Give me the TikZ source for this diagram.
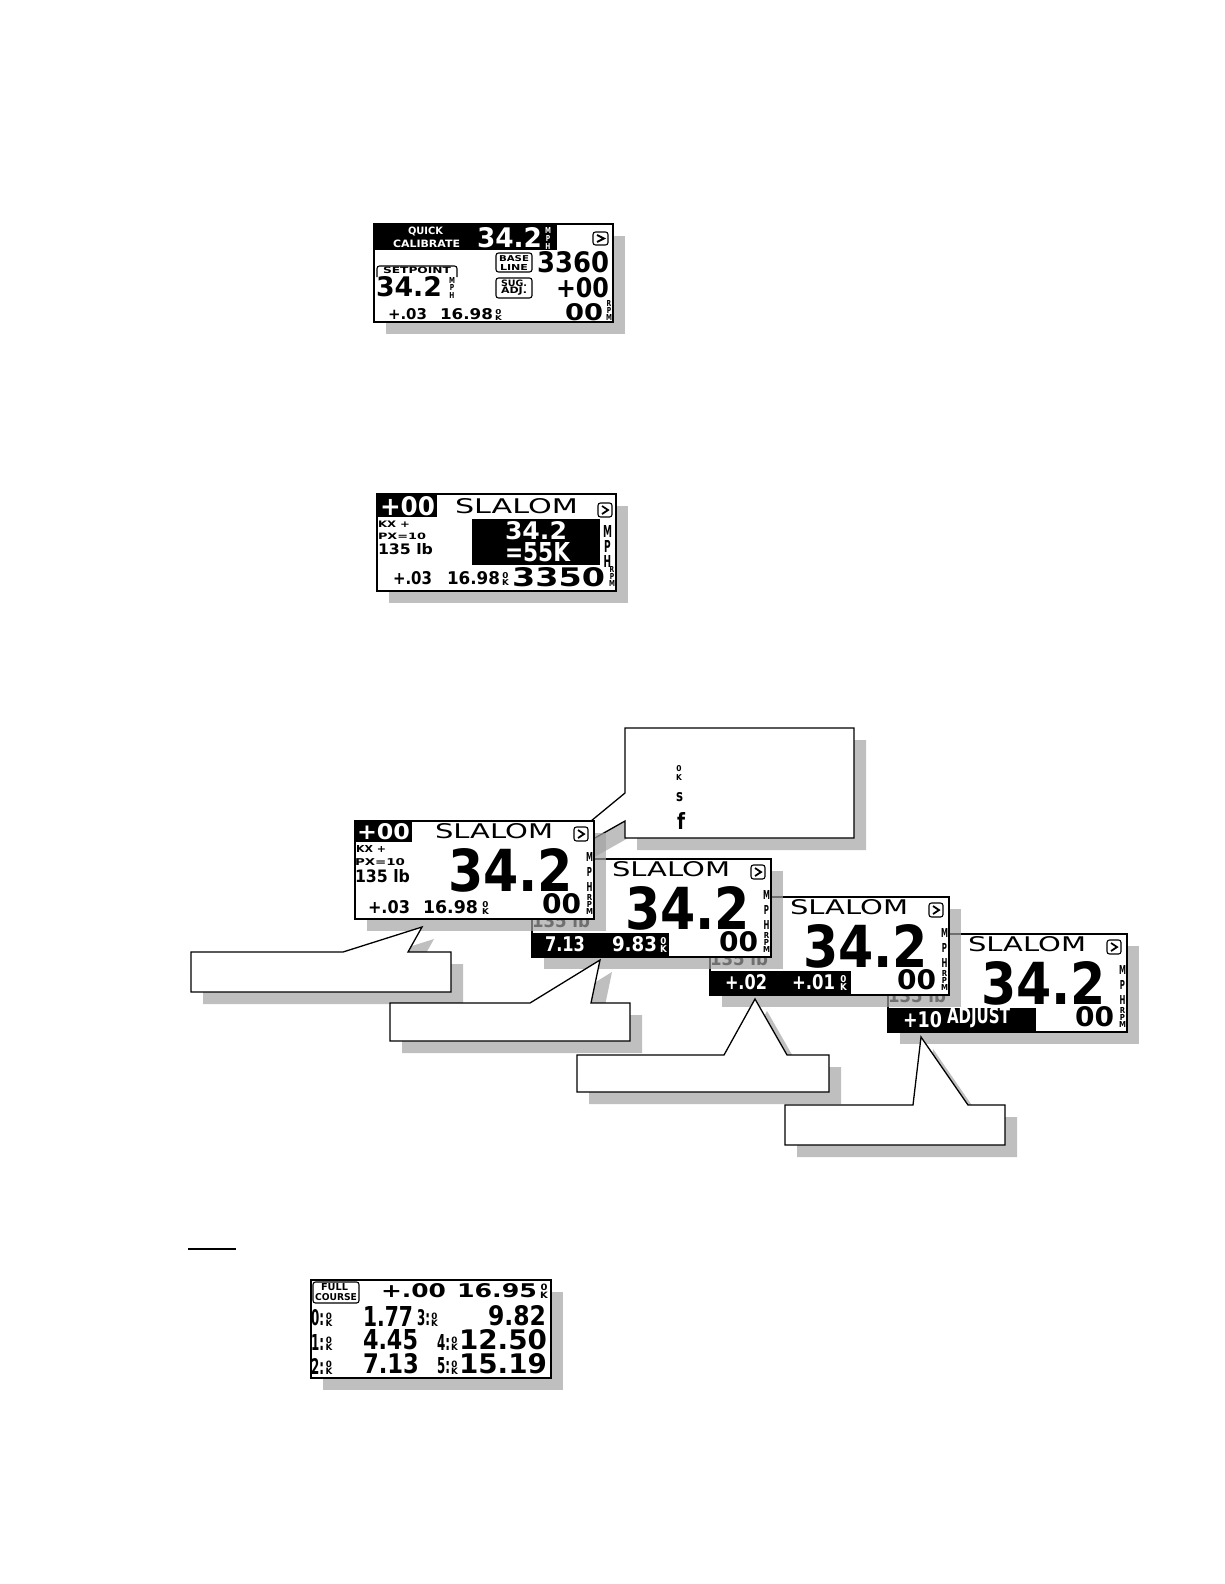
\documentclass[tikz,border=0pt]{standalone}
\usepackage{fontspec}
\setmainfont{DejaVu Sans}
\usepackage{graphicx}
\definecolor{shc}{RGB}{163,163,163}
\newcounter{tn}
\tikzset{
 txt/.style={anchor=south west, inner sep=0pt, outer sep=0pt},
 lcd/.style={draw=black, line width=1.5pt, fill=white},
 shd/.style={fill=shc, fill opacity=0.686, draw=none},
 blk/.style={fill=black, draw=none},
 call/.style={draw=black, line width=1.3pt, fill=white, line join=miter},
 btn/.style={draw=black, line width=1.1pt, rounded corners=2.5pt, fill=white},
}
\newcommand\tx[6][]{\stepcounter{tn}\node[txt,#1] (t\arabic{tn}) at ({#2},{#3}) {\resizebox{#4pt}{#5pt}{#6}};}
\newcommand\vstk[4]{\vbox{\offinterlineskip\hbox to 1em{\hfil#1\hfil}\kern#4\hbox to 1em{\hfil#2\hfil}\kern#4\hbox to 1em{\hfil#3\hfil}}}
\newcommand\vtwo[3]{\vbox{\offinterlineskip\hbox to 0.8em{\hfil#1\hfil}\kern#3\hbox to 0.8em{\hfil#2\hfil}}}
% [colour]{x}{y top}{w}{letter h}{step}{L1}{L2}{L3}
\newcommand\three[9][black]{\pgfmathsetmacro\stkh{2*#6+#5}\pgfmathsetmacro\stkg{7.29*(#6-#5)/#5}\tx[text=#1]{#2}{#3+\stkh}{#4}{\stkh}{\bfseries\vstk{#7}{#8}{#9}{\stkg pt}}}
% [colour]{x}{y bottom of 0}{y bottom of K}{w}{letter h}
\newcommand\okk[6][black]{\pgfmathsetmacro\stkh{#4-#3+#6}\pgfmathsetmacro\stkg{7.29*(#4-#3-#6)/#6}\tx[text=#1]{#2}{#4}{#5}{\stkh}{\bfseries\vtwo{0}{K}{\stkg pt}}}
\newcommand\chev[4]{\draw[btn] (#1,#2) rectangle (#3,#4); \draw[line width=1.8pt, line join=miter] ({#1+4},{#2+3}) -- ({#3-4},{(#2+#4)/2}) -- ({#1+4},{#4-3});}
\newcommand\slal{%
 \fill[shd] (12,12) rectangle (251,110);
 \draw[lcd] (0,0) rectangle (239,98);
 \tx{80}{18}{118}{15}{SLALOM}
 \chev{219}{6}{233}{20}
 \tx{93}{71}{125}{43}{\bfseries 34.2}
 \three{231}{31}{7}{9}{15}{M}{P}{H}
 \tx{187}{93}{39}{20}{\bfseries 00}
 \three{231}{73}{7}{6}{7}{R}{P}{M}
}
\begin{document}
\begin{tikzpicture}[x=1pt,y=-1pt]
\useasboundingbox (0,0) rectangle (1224,1584);
\fill[white] (0,0) rectangle (1224,1584);

% ---------- screen 1: quick calibrate
\begin{scope}[shift={(374,224)}]
 \fill[shd] (12,12) rectangle (251,110);
 \draw[lcd] (0,0) rectangle (239,98);
 \fill[blk] (0,0) rectangle (183,26);
 \tx[text=white]{34}{12}{35}{7.5}{\bfseries QUICK}
 \tx[text=white]{19}{24}{67}{7.5}{\bfseries CALIBRATE}
 \tx[text=white]{103}{24}{65}{20}{\bfseries 34.2}
 \three[white]{171}{3}{6}{6}{8}{M}{P}{H}
 \chev{219}{8}{234}{21}
 \draw[btn] (122,29) rectangle (158,48);
 \tx{125}{37.5}{30}{6}{\bfseries BASE}
 \tx{126}{46}{28}{6}{\bfseries LINE}
 \tx{163}{49}{72}{21}{\bfseries 3360}
 \draw[line width=1.1pt, rounded corners=2.5pt] (3,53) -- (3,42) -- (83,42) -- (83,53);
 \tx{9}{49.5}{68}{6.5}{\bfseries SETPOINT}
 \tx{2}{73}{66}{20}{\bfseries 34.2}
 \three{75}{53}{6}{6}{7.5}{M}{P}{H}
 \draw[btn] (122,54) rectangle (158,74);
 \tx{127}{62.5}{26}{6.5}{\bfseries SUG.}
 \tx{127}{71.5}{26}{6.5}{\bfseries ADJ.}
 \tx{182}{74}{53}{20}{\bfseries +00}
 \tx{14}{96}{39}{11}{\bfseries +.03}
 \tx{66}{96}{53}{11}{\bfseries 16.98}
 \okk{121}{90}{96.5}{7}{5}
 \tx{191}{97}{38}{17}{\bfseries 00}
 \three{232}{76}{6}{6}{7}{R}{P}{M}
\end{scope}

% ---------- screen 2: slalom, inverted speed
\begin{scope}[shift={(377,494)}]
 \fill[shd] (12,12) rectangle (251,109);
 \draw[lcd] (0,0) rectangle (239,97);
 \fill[blk] (0,0) rectangle (60,23);
 \tx[text=white]{3}{22}{55}{19}{\bfseries +00}
 \tx{78}{20}{123}{15}{SLALOM}
 \chev{221}{9}{235}{23}
 \tx{1}{33}{32}{6.5}{\bfseries KX +}
 \tx{1}{46}{48}{6.5}{\bfseries PX=10}
 \tx{1}{61}{55}{11}{\bfseries 135 lb}
 \fill[blk] (95,25) rectangle (223,71);
 \tx[text=white]{128}{46}{62}{18}{\bfseries 34.2}
 \tx[text=white]{128}{68}{65}{19}{\bfseries =55K}
 \three{226}{31}{9}{12}{15}{M}{P}{H}
 \tx{16}{91}{39}{13}{\bfseries +.03}
 \tx{70}{91}{53}{13}{\bfseries 16.98}
 \okk{125}{84}{91}{7}{6}
 \tx{135}{93}{93}{19}{\bfseries 3350}
 \three{232}{72}{6}{6}{7}{R}{P}{M}
\end{scope}

% ---------- screen 6
\begin{scope}[shift={(888,934)}]
 \slal
 \tx{0}{69}{58}{14}{\bfseries 135 lb}
 \fill[blk] (0,74) rectangle (148,98);
 \tx[text=white]{15}{94}{39}{16}{\bfseries +10}
 \tx[text=white]{59}{94}{63}{16}{\bfseries ADJUST}
\end{scope}

% ---------- screen 5
\begin{scope}[shift={(710,897)}]
 \slal
 \tx{0}{69}{58}{14}{\bfseries 135 lb}
 \fill[blk] (0,74) rectangle (141,98);
 \tx[text=white]{15}{93}{42}{15}{\bfseries +.02}
 \tx[text=white]{82}{93}{43}{15}{\bfseries +.01}
 \okk[white]{130}{85}{93}{7}{7}
\end{scope}

% ---------- screen 4
\begin{scope}[shift={(532,859)}]
 \slal
 \tx{0}{69}{58}{14}{\bfseries 135 lb}
 \fill[blk] (0,74) rectangle (137,98);
 \tx[text=white]{13}{93}{40}{15}{\bfseries 7.13}
 \tx[text=white]{80}{93}{45}{15}{\bfseries 9.83}
 \okk[white]{128}{85}{93}{7}{7}
\end{scope}

% ---------- top callout
\fill[shd,shift={(12,12)}] (625,728) -- (854,728) -- (854,838) -- (625,838) -- (625,821) -- (517,882) -- (625,793) -- cycle;
\draw[call] (625,728) -- (854,728) -- (854,838) -- (625,838) -- (625,821) -- (517,882) -- (625,793) -- cycle;
\okk{676}{771}{780}{6}{6}
\tx{676}{802}{7}{9}{\bfseries s}
\tx{677}{829}{8}{17}{\bfseries f}

% ---------- screen 3
\begin{scope}[shift={(355,821)}]
 \slal
 \fill[blk] (0,0) rectangle (57,21);
 \tx[text=white]{2}{19}{53}{16}{\bfseries +00}
 \tx{1}{31}{30}{7}{\bfseries KX +}
 \tx{0}{45}{50}{7}{\bfseries PX=10}
 \tx{0}{62}{55}{13}{\bfseries 135 lb}
 \tx{13}{93}{42}{13}{\bfseries +.03}
 \tx{68}{93}{55}{13}{\bfseries 16.98}
 \okk{127}{86}{93}{7}{6}
\end{scope}

% ---------- lower callouts
\fill[shd,shift={(12,12)}] (191,952) -- (343,952) -- (422,927) -- (408,952) -- (451,952) -- (451,992) -- (191,992) -- cycle;
\draw[call] (191,952) -- (343,952) -- (422,927) -- (408,952) -- (451,952) -- (451,992) -- (191,992) -- cycle;
\fill[shd,shift={(12,12)}] (390,1003) -- (530,1003) -- (600,960) -- (591,1003) -- (630,1003) -- (630,1041) -- (390,1041) -- cycle;
\draw[call] (390,1003) -- (530,1003) -- (600,960) -- (591,1003) -- (630,1003) -- (630,1041) -- (390,1041) -- cycle;
\fill[shd,shift={(12,12)}] (577,1055) -- (724,1055) -- (755,999) -- (787,1055) -- (829,1055) -- (829,1092) -- (577,1092) -- cycle;
\draw[call] (577,1055) -- (724,1055) -- (755,999) -- (787,1055) -- (829,1055) -- (829,1092) -- (577,1092) -- cycle;
\fill[shd,shift={(12,12)}] (785,1105) -- (913,1105) -- (921,1037) -- (968,1105) -- (1005,1105) -- (1005,1145) -- (785,1145) -- cycle;
\draw[call] (785,1105) -- (913,1105) -- (921,1037) -- (968,1105) -- (1005,1105) -- (1005,1145) -- (785,1145) -- cycle;

% ---------- underline
\draw[line width=2.5pt] (188,1249) -- (236,1249);

% ---------- screen 7: full course
\begin{scope}[shift={(311,1280)}]
 \fill[shd] (12,12) rectangle (252,110);
 \draw[lcd] (0,0) rectangle (240,98);
 \draw[btn] (2,2) rectangle (48,23);
 \tx{10}{11}{27}{7}{\bfseries FULL}
 \tx{4}{21}{42}{7}{\bfseries COURSE}
 \tx{70}{18}{65}{14}{\bfseries +.00}
 \tx{146}{18}{80}{14}{\bfseries 16.95}
 \okk{229}{10.5}{18}{8}{6.5}
 % row 2
 \tx{0}{46}{13}{16}{\bfseries 0:}\okk{14.5}{39}{46}{7}{6.5}
 \tx{52}{46}{50}{20}{\bfseries 1.77}
 \tx{106}{46}{13}{16}{\bfseries 3:}\okk{120}{39}{46}{7}{6.5}
 \tx{177}{46}{58}{20}{\bfseries 9.82}
 % row 3
 \tx{0}{70}{13}{16}{\bfseries 1:}\okk{14.5}{63}{70}{7}{6.5}
 \tx{52}{70}{55}{20}{\bfseries 4.45}
 \tx{126}{70}{13}{16}{\bfseries 4:}\okk{140}{63}{70}{7}{6.5}
 \tx{148}{70}{88}{20}{\bfseries 12.50}
 % row 4
 \tx{0}{94}{13}{16}{\bfseries 2:}\okk{14.5}{87}{94}{7}{6.5}
 \tx{52}{94}{56}{20}{\bfseries 7.13}
 \tx{126}{94}{13}{16}{\bfseries 5:}\okk{140}{87}{94}{7}{6.5}
 \tx{148}{94}{88}{20}{\bfseries 15.19}
\end{scope}
\end{tikzpicture}
\end{document}
